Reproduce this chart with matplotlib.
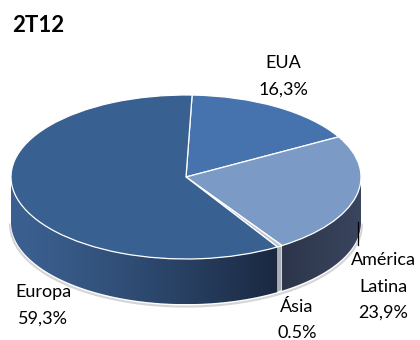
import numpy as np
import matplotlib.pyplot as plt
from matplotlib.patches import Polygon
from matplotlib.lines import Line2D

plt.rcParams['font.family'] = ['Lato', 'DejaVu Sans']

# dados (2T12, receita por região)
regions = ['EUA', 'América\nLatina', 'Ásia', 'Europa']
shares = [16.3, 23.9, 0.5, 59.3]
share_labels = ['16,3%', '23,9%', '0.5%', '59,3%']

top_colors = ['#4673ae', '#7b9ac6', '#c3c7cf', '#386091']
side_colors = ['#2f4f7d', '#323c52', '#a9adb5', '#2a4670']

W, H = 420, 340
fig = plt.figure(figsize=(W / 100, H / 100), dpi=100)
ax = fig.add_axes([0, 0, 1, 1])

# elipse da face superior: centro (186,177) px, rx=175 px, ry=82 px
cx, cy, rx, ry = 186, 177, 175, 82
depth = 0.55
start = 88

wedges, _ = ax.pie(shares, startangle=start, counterclock=False, colors=top_colors,
                   wedgeprops=dict(edgecolor='white', linewidth=0.9), radius=1)
for w in wedges:
    w.set_zorder(3)

# paredes laterais (parte frontal visível)
bounds = start - np.cumsum([0] + shares) * 3.6
for i in range(len(shares)):
    lo, hi = max(bounds[i + 1], -180), min(bounds[i], 0)
    if hi <= lo:
        continue
    t = np.radians(np.linspace(lo, hi, 80))
    xs, ys = np.cos(t), np.sin(t)
    pts = np.column_stack([np.r_[xs, xs[::-1]], np.r_[ys, ys[::-1] - depth]])
    poly = Polygon(pts, closed=True, facecolor=side_colors[i], edgecolor='white',
                   linewidth=0.8, zorder=2)
    ax.add_patch(poly)
    if regions[i] == 'Europa':
        # degradê da lateral
        grad = np.linspace(0, 1, 256).reshape(1, -1)
        c0 = np.array([0x3b, 0x60, 0x90]) / 255
        c1 = np.array([0x1a, 0x28, 0x40]) / 255
        img = c0[None, None, :] * (1 - grad[..., None] ** 1.3) + c1[None, None, :] * grad[..., None] ** 1.3
        im = ax.imshow(img, extent=(xs.min(), xs.max(), ys.min() - depth, 0), aspect='auto', zorder=2.1)
        im.set_clip_path(poly)
    if regions[i].startswith('América'):
        grad = np.linspace(0, 1, 256).reshape(1, -1)
        c0 = np.array([0x2c, 0x35, 0x4a]) / 255
        c1 = np.array([0x3a, 0x45, 0x5e]) / 255
        img = c0[None, None, :] * (1 - grad[..., None]) + c1[None, None, :] * grad[..., None]
        im = ax.imshow(img, extent=(xs.min(), xs.max(), ys.min() - depth, 0), aspect='auto', zorder=2.1)
        im.set_clip_path(poly)

# sombra leve sob o disco
t = np.radians(np.linspace(-180, 0, 120))
ax.plot(np.cos(t) * 1.005, np.sin(t) - depth - 0.03, color='#d5d5d5', lw=1.5, zorder=1)

ax.set_xlim(-cx / rx, (W - cx) / rx)
ax.set_ylim((cy - H) / ry, cy / ry)
ax.set_aspect('auto')
ax.axis('off')

def fx(x):
    return x / W

def fy(y):
    return 1 - y / H

fig.text(fx(12), fy(26), '2T12', fontsize=16, fontweight='bold', ha='left', va='center')

# posição (px) da primeira linha de cada rótulo
label_pos = [(283, 63), (383, 260), (297, 307), (43, 292)]
step = 26.5
for name, lab, (x, y) in zip(regions, share_labels, label_pos):
    lines = name.split('\n') + [lab]
    for k, line in enumerate(lines):
        fig.text(fx(x), fy(y + step * k), line, fontsize=13, ha='center', va='center')

fig.add_artist(Line2D([fx(358), fx(358)], [fy(222), fy(245)], color='black', lw=0.9))

fig.savefig('out.png', dpi=100)
